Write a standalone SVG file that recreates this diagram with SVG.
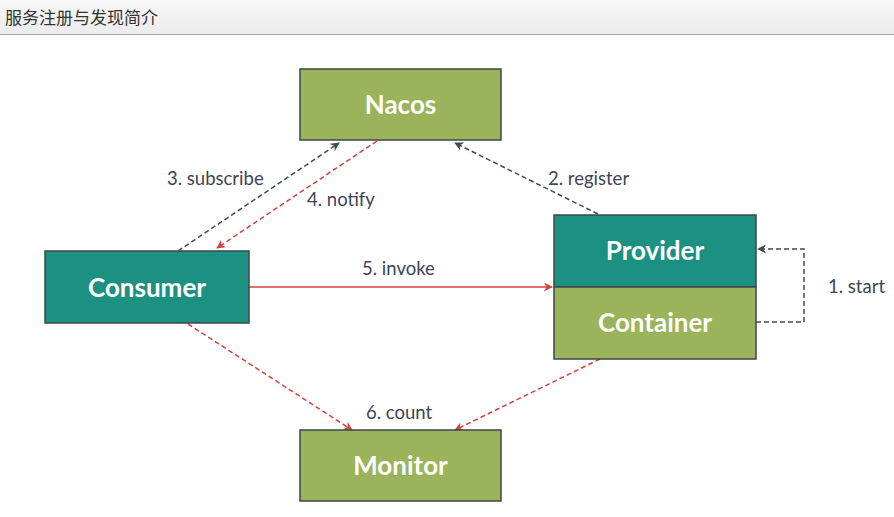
<svg xmlns="http://www.w3.org/2000/svg" width="894" height="517" viewBox="0 0 894 517">
<defs>
<linearGradient id="hdr" x1="0" y1="0" x2="0" y2="1">
<stop offset="0" stop-color="#f7f7f7"/>
<stop offset="1" stop-color="#ececec"/>
</linearGradient>
<marker id="ag" viewBox="0 0 10 10" refX="9" refY="5" markerWidth="9" markerHeight="9" markerUnits="userSpaceOnUse" orient="auto">
<path d="M0,0 L10,5 L0,10 L3,5 z" fill="#3f4a5a"/>
</marker>
<marker id="ar" viewBox="0 0 10 10" refX="9" refY="5" markerWidth="9" markerHeight="9" markerUnits="userSpaceOnUse" orient="auto">
<path d="M0,0 L10,5 L0,10 L3,5 z" fill="#d2453b"/>
</marker>
<style>
.olive{fill:#9bb35b;stroke:#3b4848;stroke-width:1.5}
.teal{fill:#1c9182;stroke:#3b4848;stroke-width:1.5}
.nt{font-family:Lato,"Liberation Sans",sans-serif;font-weight:bold;font-size:26px;fill:#ffffff;text-anchor:middle}
.lb{font-family:Lato,"Liberation Sans",sans-serif;font-size:18.5px;fill:#3e4554}
.dg{fill:none;stroke:#3f4a5a;stroke-width:1.5;stroke-dasharray:5 3;marker-end:url(#ag)}
.dr{fill:none;stroke:#d2453b;stroke-width:1.5;stroke-dasharray:5 3;marker-end:url(#ar)}
.sr{fill:none;stroke:#d2453b;stroke-width:1.6;marker-end:url(#ar)}
</style>
</defs>
<rect x="0" y="0" width="894" height="517" fill="#ffffff"/>
<rect x="0" y="0" width="894" height="34" fill="url(#hdr)"/>
<line x1="0" y1="34.5" x2="894" y2="34.5" stroke="#a8a8a8" stroke-width="1"/>
<text x="5" y="24" font-family="'Noto Sans CJK SC',sans-serif" font-size="17" fill="#333333">服务注册与发现简介</text>

<g id="connectors">
<path class="dg" d="M178,251 L339,143"/>
<path class="dr" d="M377,141 L217,248"/>
<path class="dg" d="M598,214 L455,143"/>
<path class="sr" d="M249,287 L552,287"/>
<path class="dg" d="M756,322 L804,322 L804,249 L758,249"/>
<path class="dr" d="M188,324 L352,430"/>
<path class="dr" d="M600,359 L455,430"/>
<text class="lb" x="167" y="185">3. subscribe</text>
<text class="lb" x="307" y="206">4. notify</text>
<text class="lb" x="548" y="185">2. register</text>
<text class="lb" x="362" y="275">5. invoke</text>
<text class="lb" x="828" y="293">1. start</text>
<text class="lb" x="366" y="419">6. count</text>
</g>

<g id="nacos">
<rect class="olive" x="300" y="69" width="201" height="71"/>
<text class="nt" x="400.5" y="114">Nacos</text>
</g>
<g id="provider">
<rect class="teal" x="554" y="215" width="202" height="72"/>
<text class="nt" x="655" y="260">Provider</text>
</g>
<g id="container">
<rect class="olive" x="554" y="287" width="202" height="72"/>
<text class="nt" x="655" y="332">Container</text>
</g>
<g id="consumer">
<rect class="teal" x="45" y="251" width="204" height="72"/>
<text class="nt" x="147" y="297">Consumer</text>
</g>
<g id="monitor">
<rect class="olive" x="300" y="430" width="201" height="71"/>
<text class="nt" x="400.5" y="475">Monitor</text>
</g>
</svg>
